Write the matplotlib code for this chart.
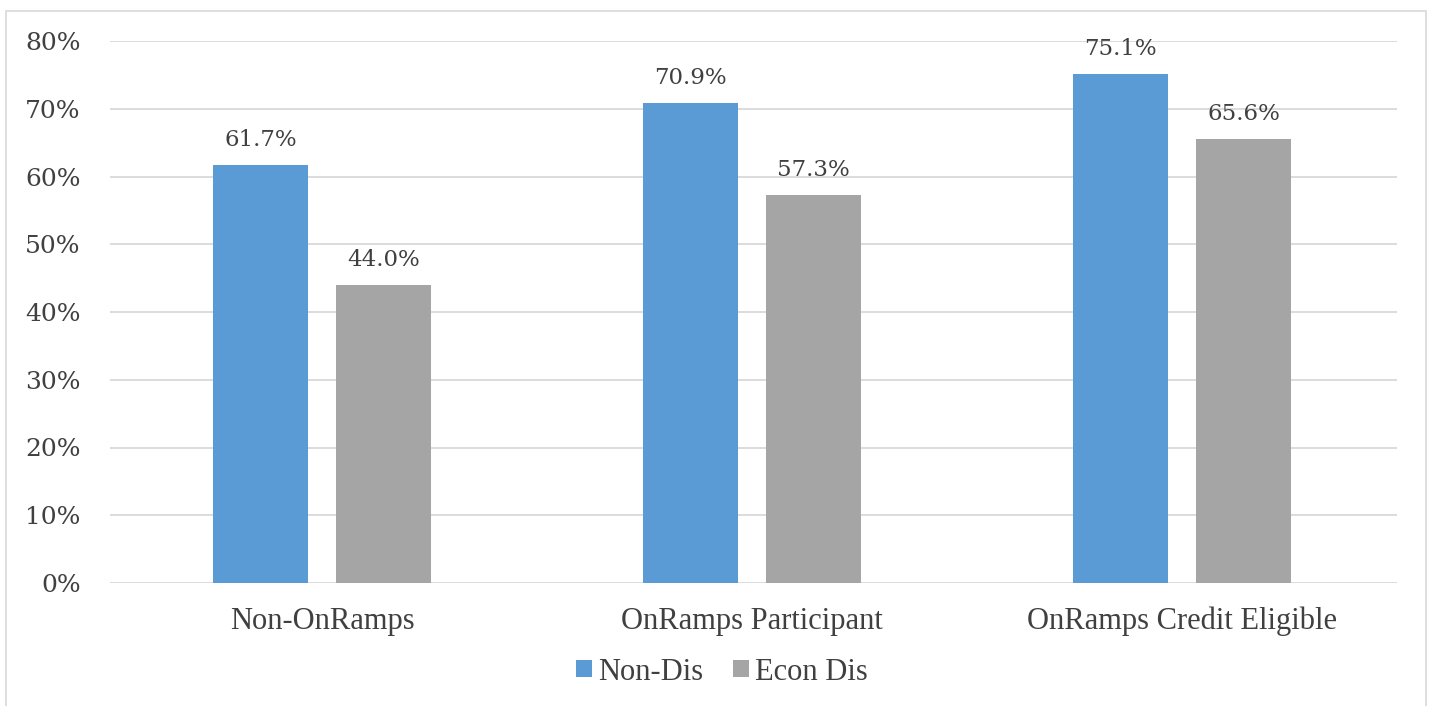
import matplotlib
matplotlib.use("Agg")
import matplotlib.pyplot as plt
import numpy as np
from matplotlib.patches import Rectangle

categories = ["Non-OnRamps", "OnRamps Participant", "OnRamps Credit Eligible"]
non_dis = [0.617, 0.709, 0.751]
econ_dis = [0.440, 0.573, 0.656]
series_names = ["Non-Dis", "Econ Dis"]
yticks = [0, 0.1, 0.2, 0.3, 0.4, 0.5, 0.6, 0.7, 0.8]

BLUE = "#5B9BD5"
GRAY = "#A5A5A5"
TXT = "#404040"
NUMFONT = "DejaVu Serif"
CATFONT = "Liberation Serif"

W, H = 1432, 706
fig = plt.figure(figsize=(W/100, H/100), dpi=100)
fig.patch.set_facecolor("white")
# outer border
fig.add_artist(Rectangle((6/W, -0.01), (1426-6)/W, (H-11)/H + 0.01, transform=fig.transFigure,
                         fill=False, edgecolor="#D9D9D9", linewidth=1.2))

ax = fig.add_axes([110/W, 1-583/H, (1397-110)/W, (583-41)/H])
x = np.arange(len(categories))
bw = 0.222
off = 0.143
b1 = ax.bar(x - off, non_dis, bw, color=BLUE, label=series_names[0], zorder=3)
b2 = ax.bar(x + off, econ_dis, bw, color=GRAY, label=series_names[1], zorder=3)

for bars, vals in ((b1, non_dis), (b2, econ_dis)):
    for r, v in zip(bars, vals):
        ax.annotate(f"{v*100:.1f}%", (r.get_x() + r.get_width()/2, v),
                    xytext=(0, 10), textcoords="offset points", ha="center", va="bottom",
                    fontsize=16.5, color=TXT, family=NUMFONT, zorder=4)

ax.set_xlim(-0.493, 2.5)
ax.set_ylim(0, 0.8)
ax.set_yticks(yticks)
ax.set_yticklabels([f"{int(round(t*100))}%" for t in yticks], family=NUMFONT, fontsize=18, color=TXT)
ax.set_xticks(x)
ax.set_xticklabels(categories, family=CATFONT, fontsize=22, color=TXT)
ax.tick_params(axis="both", length=0)
ax.tick_params(axis="y", pad=21)
ax.tick_params(axis="x", pad=17)
ax.grid(axis="y", color="#D9D9D9", linewidth=1.3, zorder=0)
for s in ax.spines.values():
    s.set_visible(False)

leg = fig.legend(handles=[b1, b2], labels=series_names, loc="center",
                 bbox_to_anchor=(722/W, 1-672/H), ncol=2, frameon=False,
                 prop={"family": CATFONT, "size": 22}, handlelength=0.5, handleheight=0.5,
                 handletextpad=0.2, columnspacing=1.0)
for t in leg.get_texts():
    t.set_color(TXT)

fig.savefig("out.png", dpi=100)
